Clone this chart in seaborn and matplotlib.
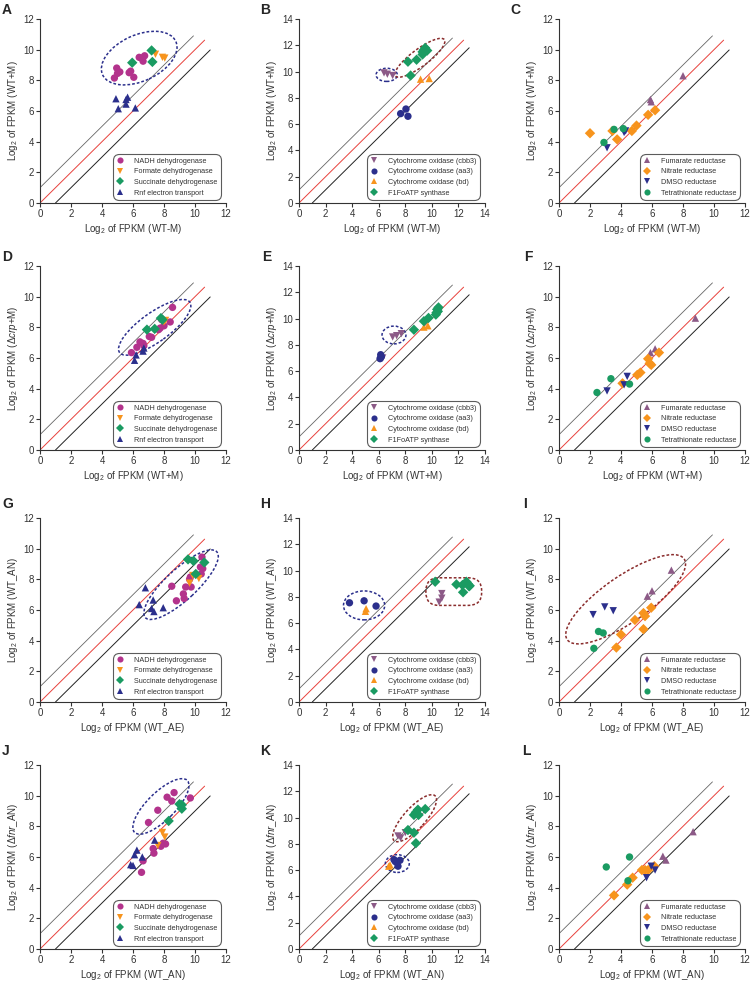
import pandas as pd
import matplotlib
matplotlib.use("Agg")
import matplotlib.pyplot as plt
import seaborn as sns
from matplotlib.patches import Ellipse, FancyBboxPatch

# legend categories
RESP = ["NADH dehydrogenase", "Formate dehydrogenase", "Succinate dehydrogenase", "Rnf electron transport"]
CYTO = ["Cytochrome oxidase (cbb3)", "Cytochrome oxidase (aa3)", "Cytochrome oxidase (bd)", "F1FoATP synthase"]
REDU = ["Fumarate reductase", "Nitrate reductase", "DMSO reductase", "Tetrathionate reductase"]

# Panel A  (x = WT-M, y = WT+M)
A_NADH = [(4.8, 8.15), (4.95, 8.8), (5.15, 8.55), (5.0, 8.45), (5.75, 8.5), (5.85, 8.6), (6.05, 8.2),
          (6.4, 9.5), (6.65, 9.25), (6.75, 9.6), (6.55, 9.45)]
A_FORM = [(7.45, 9.7), (7.9, 9.5), (8.05, 9.45)]
A_SUCC = [(5.95, 9.15), (7.2, 9.95), (7.25, 9.2)]
A_RNF = [(4.9, 6.8), (5.05, 6.15), (5.55, 6.75), (5.65, 6.9), (5.55, 6.45), (6.15, 6.2)]

# Panel B
B_CBB3 = [(6.4, 9.9), (6.65, 9.8), (7.05, 9.7)]
B_AA3 = [(7.65, 6.8), (8.05, 7.15), (8.2, 6.6)]
B_BD = [(9.15, 9.42), (9.8, 9.47)]
B_F1FO = [(8.2, 10.75), (8.85, 10.9), (8.4, 9.7), (9.3, 11.3), (9.4, 11.65), (9.5, 11.8), (9.65, 11.6), (9.3, 11.5)]

# Panel C
C_FUM = [(5.9, 6.75), (5.95, 6.6), (8.0, 8.3)]
C_NIT = [(2.0, 4.55), (3.45, 4.7), (3.75, 4.15), (4.7, 4.7), (5.0, 5.05), (5.75, 5.75), (6.2, 6.05)]
C_DMSO = [(3.1, 3.6), (4.2, 4.6), (4.3, 4.7)]
C_TET = [(2.9, 3.95), (3.55, 4.8), (4.15, 4.85)]

# Panel D  (x = WT+M, y = crp+M)
D_NADH = [(5.9, 6.35), (6.25, 6.7), (6.45, 7.05), (6.65, 6.95), (6.7, 6.8), (7.05, 7.4), (7.2, 7.35),
          (7.65, 7.85), (7.75, 7.95), (7.85, 8.5), (8.0, 8.1), (8.4, 8.35), (8.55, 9.3)]
D_FORM = [(8.0, 8.35), (8.1, 8.45)]
D_SUCC = [(6.9, 7.85), (7.4, 7.9), (7.8, 8.6), (7.9, 8.5)]
D_RNF = [(6.1, 5.85), (6.2, 6.2), (6.65, 6.45), (6.7, 6.65)]

# Panel E
E_CBB3 = [(7.05, 8.6), (7.35, 8.7), (7.7, 8.85), (6.3, 7.0)]
E_AA3 = [(6.15, 7.25), (6.1, 6.95), (6.2, 7.1)]
E_BD = [(9.4, 9.35), (9.7, 9.45)]
E_F1FO = [(8.65, 9.15), (9.4, 9.8), (9.75, 10.05), (10.3, 10.3), (10.35, 10.45), (10.4, 10.7), (10.5, 10.85), (10.45, 10.55)]

# Panel F
F_FUM = [(5.9, 6.35), (6.2, 6.6), (8.8, 8.6)]
F_NIT = [(4.1, 4.35), (5.05, 4.9), (5.25, 5.05), (5.75, 5.95), (5.85, 5.65), (5.95, 5.55), (6.45, 6.35)]
F_DMSO = [(3.1, 3.85), (4.2, 4.25), (4.4, 4.8)]
F_TET = [(2.45, 3.75), (3.35, 4.65), (4.55, 4.3)]

# Panel G  (x = WT_AE, y = WT_AN)
G_NADH = [(8.5, 7.55), (8.8, 6.6), (9.25, 7.05), (9.3, 6.75), (9.4, 7.5), (9.65, 8.0), (9.7, 8.15),
          (9.75, 7.5), (10.35, 8.8), (10.4, 8.35), (10.45, 9.45), (10.5, 8.7)]
G_FORM = [(9.65, 7.75), (9.85, 8.25), (10.25, 8.05)]
G_SUCC = [(9.55, 9.3), (9.9, 9.2), (10.05, 8.35), (10.6, 9.1)]
G_RNF = [(6.8, 7.45), (6.4, 6.35), (7.2, 6.1), (7.3, 6.65), (7.35, 5.9), (7.95, 6.15)]

# Panel H
H_CBB3 = [(10.55, 7.6), (10.75, 7.9), (10.75, 8.25)]
H_AA3 = [(3.8, 7.55), (4.9, 7.7), (5.8, 7.3)]
H_BD = [(5.05, 7.1), (5.0, 6.9)]
H_F1FO = [(10.25, 9.15), (11.85, 8.95), (12.3, 8.9), (12.6, 9.15), (12.7, 9.0), (12.85, 8.85), (12.35, 8.35), (12.8, 8.8)]

# Panel I
I_FUM = [(5.7, 6.9), (6.0, 7.25), (7.25, 8.6)]
I_NIT = [(3.7, 3.55), (4.0, 4.4), (4.9, 5.35), (5.45, 5.8), (5.55, 5.6), (5.45, 4.75), (5.95, 6.15)]
I_DMSO = [(2.2, 5.7), (2.95, 6.2), (3.5, 5.95)]
I_TET = [(2.25, 3.5), (2.55, 4.6), (2.85, 4.5)]

# Panel J  (x = WT_AN, y = fnr_AN)
J_NADH = [(7.0, 8.25), (7.6, 9.05), (8.2, 9.9), (8.5, 9.65), (8.65, 10.2), (9.7, 9.85), (7.3, 6.55),
          (7.35, 6.25), (7.8, 6.7), (7.95, 6.9), (6.65, 5.75), (6.55, 5.0), (8.1, 6.85)]
J_FORM = [(7.9, 7.6), (8.05, 7.3), (7.6, 6.75)]
J_SUCC = [(8.3, 8.35), (9.0, 9.45), (9.15, 9.15), (9.15, 9.4)]
J_RNF = [(5.85, 5.5), (6.0, 5.45), (6.1, 6.15), (6.25, 6.45), (6.6, 6.0), (7.4, 7.1)]

# Panel K
K_CBB3 = [(7.45, 8.6), (7.65, 8.45), (8.0, 8.85)]
K_AA3 = [(7.15, 6.8), (7.45, 6.3), (7.6, 6.75), (7.25, 6.65)]
K_BD = [(6.75, 6.3), (6.85, 6.4)]
K_F1FO = [(8.2, 9.05), (8.65, 8.85), (8.8, 8.05), (8.65, 10.2), (8.8, 10.4), (8.95, 10.6), (9.0, 10.2), (9.5, 10.65)]

# Panel L
L_FUM = [(6.7, 6.05), (6.9, 5.8), (8.65, 7.65)]
L_NIT = [(3.55, 3.5), (4.4, 4.2), (4.75, 4.65), (5.35, 5.15), (5.55, 5.15), (5.75, 5.15), (6.15, 5.4)]
L_DMSO = [(5.65, 4.65), (5.95, 5.4), (6.2, 5.15)]
L_TET = [(3.05, 5.35), (4.55, 6.0), (4.45, 4.45)]

MAGENTA = "#b3338c"
ORANGE = "#f7941d"
GREEN = "#1a9b62"
NAVY = "#2b2f8c"
MAUVE = "#8c5a87"
BROWN = "#8a2c2c"

resp_style = {"NADH dehydrogenase": ("o", MAGENTA), "Formate dehydrogenase": ("v", ORANGE),
              "Succinate dehydrogenase": ("D", GREEN), "Rnf electron transport": ("^", NAVY)}
cyto_style = {"Cytochrome oxidase (cbb3)": ("v", MAUVE), "Cytochrome oxidase (aa3)": ("o", NAVY),
              "Cytochrome oxidase (bd)": ("^", ORANGE), "F1FoATP synthase": ("D", GREEN)}
redu_style = {"Fumarate reductase": ("^", MAUVE), "Nitrate reductase": ("D", ORANGE),
              "DMSO reductase": ("v", NAVY), "Tetrathionate reductase": ("o", GREEN)}

lab_wt_m = r"Log$_2$ of FPKM (WT-M)"
lab_wt_pm = r"Log$_2$ of FPKM (WT+M)"
lab_crp = r"Log$_2$ of FPKM ($\Delta\it{crp}$+M)"
lab_ae = r"Log$_2$ of FPKM (WT_AE)"
lab_an = r"Log$_2$ of FPKM (WT_AN)"
lab_fnr = r"Log$_2$ of FPKM ($\Delta\it{fnr}$_AN)"

panels = [
    ("A", RESP, resp_style, [A_NADH, A_FORM, A_SUCC, A_RNF], 12, lab_wt_m, lab_wt_pm),
    ("B", CYTO, cyto_style, [B_CBB3, B_AA3, B_BD, B_F1FO], 14, lab_wt_m, lab_wt_pm),
    ("C", REDU, redu_style, [C_FUM, C_NIT, C_DMSO, C_TET], 12, lab_wt_m, lab_wt_pm),
    ("D", RESP, resp_style, [D_NADH, D_FORM, D_SUCC, D_RNF], 12, lab_wt_pm, lab_crp),
    ("E", CYTO, cyto_style, [E_CBB3, E_AA3, E_BD, E_F1FO], 14, lab_wt_pm, lab_crp),
    ("F", REDU, redu_style, [F_FUM, F_NIT, F_DMSO, F_TET], 12, lab_wt_pm, lab_crp),
    ("G", RESP, resp_style, [G_NADH, G_FORM, G_SUCC, G_RNF], 12, lab_ae, lab_an),
    ("H", CYTO, cyto_style, [H_CBB3, H_AA3, H_BD, H_F1FO], 14, lab_ae, lab_an),
    ("I", REDU, redu_style, [I_FUM, I_NIT, I_DMSO, I_TET], 12, lab_ae, lab_an),
    ("J", RESP, resp_style, [J_NADH, J_FORM, J_SUCC, J_RNF], 12, lab_an, lab_fnr),
    ("K", CYTO, cyto_style, [K_CBB3, K_AA3, K_BD, K_F1FO], 14, lab_an, lab_fnr),
    ("L", REDU, redu_style, [L_FUM, L_NIT, L_DMSO, L_TET], 12, lab_an, lab_fnr),
]

# highlight outlines: (cx, cy, width, height, angle, color)
ellipses = {
    "A": [(6.4, 9.45, 5.2, 3.0, 25, NAVY)],
    "B": [(6.6, 9.75, 1.6, 1.0, 0, NAVY), (9.1, 11.05, 4.6, 1.3, 37, BROWN)],
    "D": [(7.4, 8.0, 5.6, 1.9, 36, NAVY)],
    "E": [(7.15, 8.75, 1.8, 1.35, 0, NAVY)],
    "G": [(9.1, 7.65, 6.3, 2.0, 43, NAVY)],
    "H": [(4.9, 7.35, 3.1, 2.2, 0, NAVY)],
    "I": [(4.3, 6.7, 9.2, 3.0, 35, BROWN)],
    "J": [(7.8, 9.3, 4.8, 1.8, 45, NAVY)],
    "K": [(8.7, 9.95, 4.6, 1.6, 48, BROWN), (7.4, 6.5, 1.8, 1.35, 0, NAVY)],
}

sns.set_style("ticks")
plt.rcParams["font.family"] = ["Liberation Sans", "DejaVu Sans"]
plt.rcParams["mathtext.fontset"] = "custom"
plt.rcParams["mathtext.rm"] = "Liberation Sans"
plt.rcParams["mathtext.it"] = "Liberation Sans:italic"
plt.rcParams["mathtext.bf"] = "Liberation Sans:bold"

W, H = 750, 981
fig = plt.figure(figsize=(7.5, 9.81), dpi=100)

col_left = [40, 299, 559]
row_top = [19, 266, 518, 765]
ax_w, ax_h = 186, 184
letter_pos = [(2, 3), (260, 3), (510, 3), (2, 250), (262, 250), (524, 250),
              (2, 497), (260, 497), (523, 497), (2, 744), (260, 744), (522, 744)]

for i, (letter, groups, style, series, lim, xlab, ylab) in enumerate(panels):
    r, c = divmod(i, 3)
    ax = fig.add_axes([col_left[c] / W, 1 - (row_top[r] + ax_h) / H, ax_w / W, ax_h / H])

    rows = []
    for g, pts in zip(groups, series):
        for x, y in pts:
            rows.append({"x": x, "y": y, "group": g})
    df = pd.DataFrame(rows)

    # reference lines: 2-fold up, equal, 2-fold down
    ax.plot([0, 0.825 * lim], [1, 0.825 * lim + 1], color="#666666", lw=0.6, zorder=1)
    ax.plot([0, 0.885 * lim], [0, 0.885 * lim], color="#e8413c", lw=0.7, zorder=1)
    ax.plot([1, 0.915 * lim], [0, 0.915 * lim - 1], color="#222222", lw=0.7, zorder=1)

    for cx, cy, ew, eh, ang, col in ellipses.get(letter, []):
        ax.add_patch(Ellipse((cx, cy), ew, eh, angle=ang, fill=False, edgecolor=col,
                             lw=1.1, linestyle=(0, (1.8, 1.3)), zorder=2, clip_on=False))
    if letter == "H":
        ax.add_patch(FancyBboxPatch((9.55, 7.35), 4.2, 2.1, boxstyle="round,pad=0,rounding_size=1.0",
                                    fill=False, edgecolor=BROWN, lw=1.1, linestyle=(0, (1.8, 1.3)),
                                    zorder=2, clip_on=False))

    sns.scatterplot(data=df, x="x", y="y", hue="group", style="group", hue_order=groups,
                    style_order=groups, palette={g: style[g][1] for g in groups},
                    markers={g: style[g][0] for g in groups}, s=28, linewidth=0,
                    ax=ax, zorder=3, clip_on=False)

    old = ax.get_legend()
    handles = old.legend_handles
    labels = [t.get_text() for t in old.get_texts()]
    old.remove()
    for h, lab in zip(handles, labels):
        h.set_markersize(3.6 if style[lab][0] == "D" else 4.4)
    leg = ax.legend(handles, labels, loc="lower right", bbox_to_anchor=(0.975, 0.015),
                    fontsize=5.2, frameon=True, fancybox=True, borderpad=0.5,
                    labelspacing=0.5, handletextpad=1.5, handlelength=1.0, borderaxespad=0)
    leg.get_frame().set_edgecolor("#333333")
    leg.get_frame().set_linewidth(0.8)
    leg.get_frame().set_boxstyle("round,pad=0,rounding_size=0.9")
    for t in leg.get_texts():
        t.set_color("#333333")

    ax.set_xlim(0, lim)
    ax.set_ylim(0, lim)
    ax.set_xticks(range(0, lim + 1, 2))
    ax.set_yticks(range(0, lim + 1, 2))
    ax.set_xlabel(xlab, fontsize=7, color="#333333", labelpad=2)
    ax.set_ylabel(ylab, fontsize=7, color="#333333", labelpad=2)
    ax.tick_params(labelsize=7, colors="#333333", length=3, width=0.8, pad=1.5)
    sns.despine(ax=ax)
    for sp in ("left", "bottom"):
        ax.spines[sp].set_linewidth(0.8)
        ax.spines[sp].set_color("#333333")

    lx, ly = letter_pos[i]
    fig.text(lx / W, 1 - ly / H, letter, fontsize=10, fontweight="bold", va="top", ha="left")

fig.savefig("out.png", dpi=100)
